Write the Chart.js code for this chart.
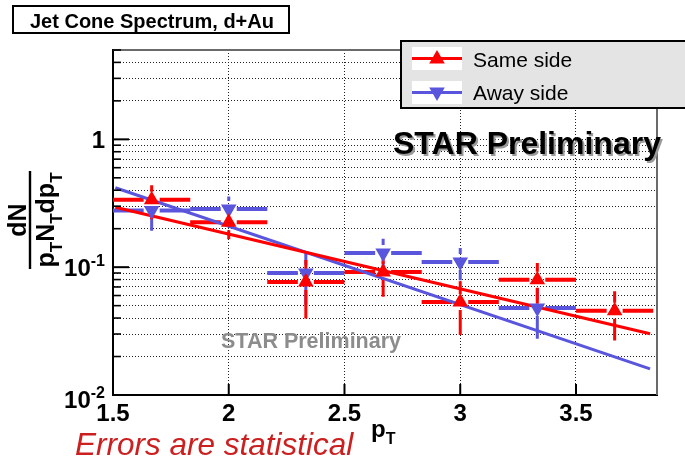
<!DOCTYPE html>
<html>
<head>
<meta charset="utf-8">
<script src="https://cdn.jsdelivr.net/npm/chart.js@4.4.1/dist/chart.umd.min.js"></script>
<style>
  body { margin: 0; background: #fff; }
  canvas { display: block; }
</style>
</head>
<body>
<canvas id="myChart" width="685" height="463"></canvas>
<script>
// bin centres (pT) and half widths
const ptCenters = [1.667, 2.0, 2.333, 2.667, 3.0, 3.333, 3.667];
const ptHalfWidth = [0.1667, 0.1667, 0.1667, 0.1667, 0.1667, 0.1667, 0.1667];

// same side
const sameSide = [0.337, 0.225, 0.0766, 0.0918, 0.0535, 0.0798, 0.0457];
const sameSideErr = [0.10, 0.06, 0.037, 0.033, 0.024, 0.028, 0.019];

// away side (no point in the last bin)
const awaySide = [0.278, 0.285, 0.090, 0.129, 0.110, 0.048, null];
const awaySideErr = [0.085, 0.072, 0.039, 0.038, 0.031, 0.0205, null];

// fit lines, end points
const fitRange = [1.51, 3.82];
const sameSideFit = [0.294, 0.0301];
const awaySideFit = [0.418, 0.0160];

// axes
const xTickLabels = [1.5, 2, 2.5, 3, 3.5];
const xGridVals = [2, 2.5, 3, 3.5];
const yTickVals = [0.01, 0.02, 0.03, 0.04, 0.05, 0.06, 0.07, 0.08, 0.09,
                   0.1, 0.2, 0.3, 0.4, 0.5, 0.6, 0.7, 0.8, 0.9, 1, 2, 3, 4, 5];
const yLabelVals = [0.01, 0.1, 1];

const RED = '#ff0000';
const BLUE = '#5a55dd';
const FONT = '"Liberation Sans", Arial, sans-serif';

function pts(ys) {
  const out = [];
  for (let i = 0; i < ptCenters.length; i++) {
    if (ys[i] != null) out.push({x: ptCenters[i], y: ys[i]});
  }
  return out;
}

function drawErrors(chart, ys, es, color) {
  const ctx = chart.ctx, xs = chart.scales.x, yS = chart.scales.y, a = chart.chartArea;
  ctx.save();
  ctx.beginPath();
  ctx.rect(a.left, a.top, a.right - a.left, a.bottom - a.top);
  ctx.clip();
  ctx.strokeStyle = color;
  const gap = 8;
  for (let i = 0; i < ptCenters.length; i++) {
    if (ys[i] == null) continue;
    const px = xs.getPixelForValue(ptCenters[i]);
    const py = yS.getPixelForValue(ys[i]);
    const x0 = xs.getPixelForValue(ptCenters[i] - ptHalfWidth[i]);
    const x1 = xs.getPixelForValue(ptCenters[i] + ptHalfWidth[i]);
    const y0 = yS.getPixelForValue(ys[i] + es[i]);
    const y1 = yS.getPixelForValue(Math.max(ys[i] - es[i], 0.001));
    ctx.lineWidth = 4;
    ctx.beginPath();
    ctx.moveTo(x0, py); ctx.lineTo(px - gap, py);
    ctx.moveTo(px + gap, py); ctx.lineTo(x1, py);
    ctx.stroke();
    ctx.lineWidth = 3;
    ctx.beginPath();
    ctx.moveTo(px, y0); ctx.lineTo(px, py - gap);
    ctx.moveTo(px, py + gap); ctx.lineTo(px, y1);
    ctx.stroke();
  }
  ctx.restore();
}

function tri(ctx, x, y, r, down, color) {
  const s = down ? -1 : 1;
  ctx.beginPath();
  ctx.moveTo(x, y - s * r);
  ctx.lineTo(x + r * 0.866, y + s * r * 0.5);
  ctx.lineTo(x - r * 0.866, y + s * r * 0.5);
  ctx.closePath();
  ctx.fillStyle = color;
  ctx.fill();
}

// draws text pieces, some as subscripts / superscripts
function drawParts(ctx, parts, x, y, size, subSize) {
  let cx = x;
  for (const p of parts) {
    ctx.font = 'bold ' + (p[1] ? subSize : size) + 'px ' + FONT;
    const dy = p[1] === 'sub' ? size * 0.3 : (p[1] === 'sup' ? -size * 0.42 : 0);
    ctx.fillText(p[0], cx, y + dy);
    cx += ctx.measureText(p[0]).width;
  }
  return cx - x;
}
function partsWidth(ctx, parts, size, subSize) {
  let w = 0;
  for (const p of parts) {
    ctx.font = 'bold ' + (p[1] ? subSize : size) + 'px ' + FONT;
    w += ctx.measureText(p[0]).width;
  }
  return w;
}

const rootStyle = {
  id: 'rootStyle',
  beforeDatasetsDraw(chart) {
    drawErrors(chart, awaySide, awaySideErr, BLUE);
    drawErrors(chart, sameSide, sameSideErr, RED);
  },
  afterDraw(chart) {
    const ctx = chart.ctx, a = chart.chartArea;
    const xs = chart.scales.x, yS = chart.scales.y;
    ctx.save();

    // top and right frame
    ctx.strokeStyle = '#6a6a6a';
    ctx.lineWidth = 2;
    ctx.beginPath();
    ctx.moveTo(a.left, a.top); ctx.lineTo(a.right, a.top); ctx.lineTo(a.right, a.bottom);
    ctx.stroke();

    // inside ticks
    ctx.strokeStyle = '#000';
    for (const v of yTickVals) {
      const py = yS.getPixelForValue(v);
      const major = yLabelVals.includes(v);
      ctx.lineWidth = major ? 2 : 1.6;
      ctx.beginPath();
      ctx.moveTo(a.left, py); ctx.lineTo(a.left + (major ? 16 : 8), py);
      ctx.stroke();
    }
    ctx.lineWidth = 2;
    for (const v of xGridVals) {
      const px = xs.getPixelForValue(v);
      ctx.beginPath();
      ctx.moveTo(px, a.bottom); ctx.lineTo(px, a.bottom - 11);
      ctx.stroke();
    }

    // x tick labels
    ctx.fillStyle = '#000';
    ctx.font = 'bold 24px ' + FONT;
    ctx.textAlign = 'center';
    ctx.textBaseline = 'alphabetic';
    for (const v of xTickLabels) {
      ctx.fillText(String(v), xs.getPixelForValue(v), a.bottom + 26);
    }

    // y tick labels
    ctx.textAlign = 'left';
    for (const v of yLabelVals) {
      const py = yS.getPixelForValue(v);
      const e = Math.round(Math.log10(v));
      const parts = e === 0 ? [['1', null]] : [['10', null], ['-' + Math.abs(e), 'sup']];
      const w = partsWidth(ctx, parts, 24, 16);
      const base = v === 0.01 ? py + 13 : py + 9;
      drawParts(ctx, parts, a.left - 8 - w, base, 24, 16);
    }

    // axis titles
    drawParts(ctx, [['p', null], ['T', 'sub']], 371, 437, 24, 16);
    ctx.save();
    ctx.translate(30, 220);
    ctx.rotate(-Math.PI / 2);
    ctx.font = 'bold 25px ' + FONT;
    ctx.textAlign = 'center';
    ctx.fillText('dN', 0, -4);
    ctx.textAlign = 'left';
    const den = [['p', null], ['T', 'sub'], ['N', null], ['T', 'sub'], ['dp', null], ['T', 'sub']];
    const dw = partsWidth(ctx, den, 25, 17);
    drawParts(ctx, den, -dw / 2, 24, 25, 17);
    ctx.fillRect(-49, -1.2, 98, 2.4);
    ctx.restore();

    // title box
    ctx.lineWidth = 2;
    ctx.strokeStyle = '#000';
    ctx.fillStyle = '#fff';
    ctx.fillRect(13, 6, 276, 27);
    ctx.strokeRect(13, 6, 276, 27);
    ctx.fillStyle = '#000';
    ctx.font = 'bold 20px ' + FONT;
    ctx.fillText('Jet Cone Spectrum, d+Au', 30, 28);

    // legend
    ctx.fillStyle = '#e4e4e4';
    ctx.fillRect(401, 41, 300, 67);
    ctx.strokeRect(401, 41, 300, 67);
    ctx.fillStyle = '#fff';
    ctx.fillRect(412, 47, 50, 23);
    ctx.fillRect(412, 81, 50, 23);
    ctx.lineWidth = 3;
    ctx.strokeStyle = RED;
    ctx.beginPath(); ctx.moveTo(412, 58.5); ctx.lineTo(462, 58.5); ctx.stroke();
    tri(ctx, 437, 59, 9, false, RED);
    ctx.strokeStyle = BLUE;
    ctx.beginPath(); ctx.moveTo(412, 92.5); ctx.lineTo(462, 92.5); ctx.stroke();
    tri(ctx, 437, 92, 9, true, BLUE);
    ctx.fillStyle = '#000';
    ctx.font = '21px ' + FONT;
    ctx.fillText('Same side', 473, 67);
    ctx.fillText('Away side', 473, 99.5);

    // STAR Preliminary labels
    ctx.font = 'bold 32px ' + FONT;
    ctx.fillStyle = '#9a9a9a';
    ctx.fillText('STAR Preliminary', 395, 156);
    ctx.fillStyle = '#000';
    ctx.fillText('STAR Preliminary', 393, 154);
    ctx.font = 'bold 21.5px ' + FONT;
    ctx.fillStyle = '#8c8c8c';
    ctx.fillText('STAR Preliminary', 221, 348);

    // note
    ctx.font = 'italic 31.5px ' + FONT;
    ctx.fillStyle = '#cc2020';
    ctx.fillText('Errors are statistical', 75, 455);

    ctx.restore();
  }
};

const chart_obj = document.getElementById('myChart');

new Chart(chart_obj, {
  type: 'scatter',
  data: {
    datasets: [
      {
        label: 'Same side',
        data: pts(sameSide),
        pointStyle: 'triangle',
        pointRadius: 9,
        pointHoverRadius: 9,
        backgroundColor: RED,
        borderColor: RED,
        borderWidth: 0,
        showLine: false
      },
      {
        label: 'Away side',
        data: pts(awaySide),
        pointStyle: 'triangle',
        rotation: 180,
        pointRadius: 9,
        pointHoverRadius: 9,
        backgroundColor: BLUE,
        borderColor: BLUE,
        borderWidth: 0,
        showLine: false
      },
      {
        label: 'same fit',
        data: fitRange.map((x, i) => ({x: x, y: sameSideFit[i]})),
        showLine: true,
        borderColor: RED,
        borderWidth: 3,
        pointRadius: 0
      },
      {
        label: 'away fit',
        data: fitRange.map((x, i) => ({x: x, y: awaySideFit[i]})),
        showLine: true,
        borderColor: BLUE,
        borderWidth: 3,
        pointRadius: 0
      }
    ]
  },
  options: {
    responsive: false,
    animation: false,
    devicePixelRatio: 1,
    layout: { padding: { left: 113, top: 50, right: 28, bottom: 68 } },
    plugins: {
      legend: { display: false },
      tooltip: { enabled: false }
    },
    scales: {
      x: {
        type: 'linear',
        min: 1.5,
        max: 3.85,
        afterBuildTicks: (s) => { s.ticks = xGridVals.map(v => ({value: v})); },
        afterFit: (s) => { s.height = 0; },
        ticks: { display: false },
        grid: { color: '#222', lineWidth: 1, drawTicks: false },
        border: { display: true, color: '#000', width: 2, dash: [1, 2] }
      },
      y: {
        type: 'logarithmic',
        min: 0.01,
        max: 5,
        afterBuildTicks: (s) => { s.ticks = yTickVals.map(v => ({value: v})); },
        afterFit: (s) => { s.width = 0; },
        ticks: { display: false },
        grid: { color: '#222', lineWidth: 1, drawTicks: false },
        border: { display: true, color: '#000', width: 2, dash: [1, 2] }
      }
    }
  },
  plugins: [rootStyle]
});
</script>
</body>
</html>
